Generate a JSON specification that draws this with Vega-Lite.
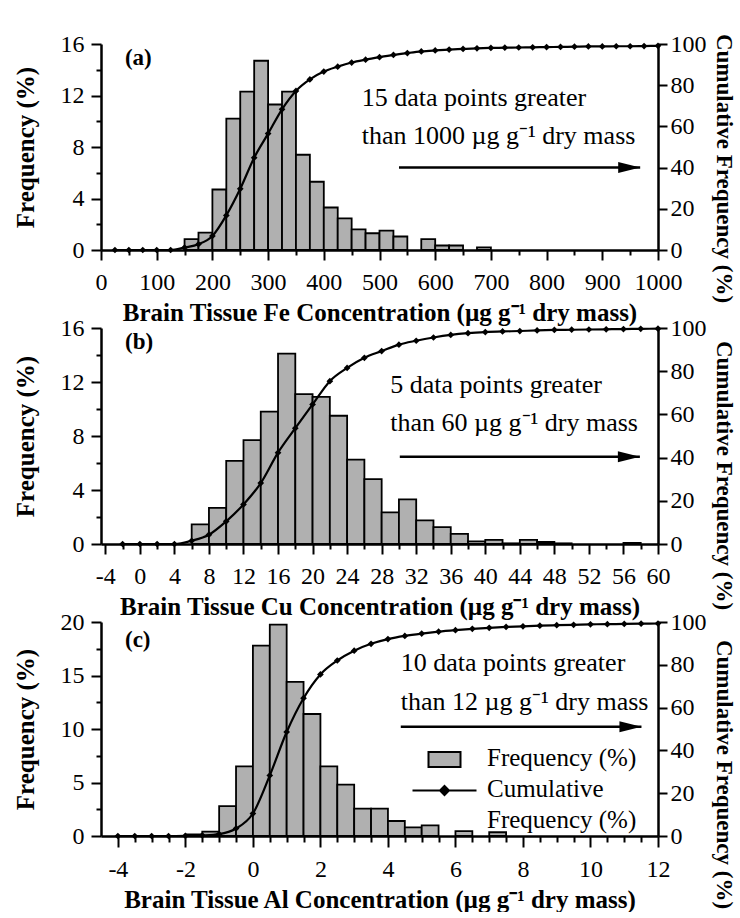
{
  "$schema": "https://vega.github.io/schema/vega-lite/v6.json",
  "background": "white",
  "padding": {"left": 13, "top": 32, "right": 0, "bottom": 0},
  "autosize": {"type": "pad"},
  "bounds": "flush",
  "spacing": 78,
  "config": {
    "font": "Liberation Serif",
    "view": {"stroke": null},
    "axis": {
      "grid": false,
      "domainColor": "black",
      "domainWidth": 2.5,
      "tickColor": "black",
      "tickWidth": 2,
      "labelColor": "black",
      "labelFont": "Liberation Serif",
      "labelFontSize": 24,
      "titleFont": "Liberation Serif",
      "titleFontSize": 25,
      "titleFontWeight": "bold",
      "titleColor": "black",
      "labelFlush": false,
      "labelOverlap": false,
      "labelBound": false
    }
  },
  "resolve": {"scale": {"fill": "independent"}, "legend": {"fill": "independent"}},
  "datasets": {
    "barsA": [
      {"x": 150, "x2": 175, "f": 0.85}, {"x": 175, "x2": 200, "f": 1.35}, {"x": 200, "x2": 225, "f": 4.7},
      {"x": 225, "x2": 250, "f": 10.2}, {"x": 250, "x2": 275, "f": 12.3}, {"x": 275, "x2": 300, "f": 14.7},
      {"x": 300, "x2": 325, "f": 11.3}, {"x": 325, "x2": 350, "f": 12.3}, {"x": 350, "x2": 375, "f": 7.4},
      {"x": 375, "x2": 400, "f": 5.3}, {"x": 400, "x2": 425, "f": 3.3}, {"x": 425, "x2": 450, "f": 2.45},
      {"x": 450, "x2": 475, "f": 1.6}, {"x": 475, "x2": 500, "f": 1.3}, {"x": 500, "x2": 525, "f": 1.5},
      {"x": 525, "x2": 550, "f": 1.05}, {"x": 575, "x2": 600, "f": 0.85}, {"x": 600, "x2": 625, "f": 0.35},
      {"x": 625, "x2": 650, "f": 0.35}, {"x": 675, "x2": 700, "f": 0.2}
    ],
    "cumA": [
      {"x": 25, "y": 0}, {"x": 50, "y": 0}, {"x": 75, "y": 0}, {"x": 100, "y": 0}, {"x": 125, "y": 0},
      {"x": 150, "y": 1.2}, {"x": 175, "y": 2.8}, {"x": 200, "y": 6.8}, {"x": 225, "y": 16.8}, {"x": 250, "y": 29.7},
      {"x": 275, "y": 44.8}, {"x": 300, "y": 56.5}, {"x": 325, "y": 68.3}, {"x": 350, "y": 77.2}, {"x": 375, "y": 82.8},
      {"x": 400, "y": 86.6}, {"x": 425, "y": 89.0}, {"x": 450, "y": 91.0}, {"x": 475, "y": 92.4}, {"x": 500, "y": 93.6},
      {"x": 525, "y": 94.7}, {"x": 550, "y": 95.6}, {"x": 575, "y": 96.4}, {"x": 600, "y": 96.9}, {"x": 625, "y": 97.3},
      {"x": 650, "y": 97.6}, {"x": 675, "y": 97.9}, {"x": 700, "y": 98.1}, {"x": 725, "y": 98.2}, {"x": 750, "y": 98.3},
      {"x": 775, "y": 98.4}, {"x": 800, "y": 98.5}, {"x": 825, "y": 98.6}, {"x": 850, "y": 98.7}, {"x": 875, "y": 98.8},
      {"x": 900, "y": 98.8}, {"x": 925, "y": 98.9}, {"x": 950, "y": 98.9}, {"x": 975, "y": 99.0}, {"x": 1000, "y": 99.1}
    ],
    "noteA": [
      {"x": 468, "y": 73.6, "t": "15 data points greater"},
      {"x": 468, "y": 55.3, "t": "than 1000 µg g⁻¹ dry mass"}
    ],
    "arrowA": [{"x": 535, "x2": 968, "y": 40}],
    "tagA": [{"x": 43, "y": 93.2, "t": "(a)"}],
    "barsB": [
      {"x": 6, "x2": 8, "f": 1.45}, {"x": 8, "x2": 10, "f": 2.67}, {"x": 10, "x2": 12, "f": 6.16},
      {"x": 12, "x2": 14, "f": 7.7}, {"x": 14, "x2": 16, "f": 9.8}, {"x": 16, "x2": 18, "f": 14.1},
      {"x": 18, "x2": 20, "f": 11.1}, {"x": 20, "x2": 22, "f": 10.9}, {"x": 22, "x2": 24, "f": 9.5},
      {"x": 24, "x2": 26, "f": 6.25}, {"x": 26, "x2": 28, "f": 4.8}, {"x": 28, "x2": 30, "f": 2.35},
      {"x": 30, "x2": 32, "f": 3.3}, {"x": 32, "x2": 34, "f": 1.75}, {"x": 34, "x2": 36, "f": 1.25},
      {"x": 36, "x2": 38, "f": 0.75}, {"x": 38, "x2": 40, "f": 0.2}, {"x": 40, "x2": 42, "f": 0.3},
      {"x": 42, "x2": 44, "f": 0.05}, {"x": 44, "x2": 46, "f": 0.3}, {"x": 46, "x2": 48, "f": 0.15},
      {"x": 48, "x2": 50, "f": 0.05}, {"x": 56, "x2": 58, "f": 0.08}
    ],
    "cumB": [
      {"x": -2, "y": 0}, {"x": 0, "y": 0}, {"x": 2, "y": 0}, {"x": 4, "y": 0}, {"x": 6, "y": 1.5},
      {"x": 8, "y": 4.3}, {"x": 10, "y": 10.5}, {"x": 12, "y": 18.3}, {"x": 14, "y": 28.2}, {"x": 16, "y": 42.3},
      {"x": 18, "y": 53.6}, {"x": 20, "y": 64.6}, {"x": 22, "y": 75.4}, {"x": 24, "y": 81.5}, {"x": 26, "y": 86.2},
      {"x": 28, "y": 89.3}, {"x": 30, "y": 92.3}, {"x": 32, "y": 94.1}, {"x": 34, "y": 95.6}, {"x": 36, "y": 96.8},
      {"x": 38, "y": 97.6}, {"x": 40, "y": 98.1}, {"x": 42, "y": 98.4}, {"x": 44, "y": 98.6}, {"x": 46, "y": 98.9},
      {"x": 48, "y": 99.1}, {"x": 50, "y": 99.2}, {"x": 52, "y": 99.3}, {"x": 54, "y": 99.4}, {"x": 56, "y": 99.5},
      {"x": 58, "y": 99.6}, {"x": 60, "y": 99.7}
    ],
    "noteB": [
      {"x": 29.0, "y": 73.6, "t": "5 data points greater"},
      {"x": 29.0, "y": 56.0, "t": "than 60 µg g⁻¹ dry mass"}
    ],
    "arrowB": [{"x": 30.1, "x2": 57.9, "y": 40.4}],
    "tagB": [{"x": -1.72, "y": 93.5, "t": "(b)"}],
    "barsC": [
      {"x": -2, "x2": -1.5, "f": 0.15}, {"x": -1.5, "x2": -1, "f": 0.4}, {"x": -1, "x2": -0.5, "f": 2.8},
      {"x": -0.5, "x2": 0, "f": 6.5}, {"x": 0, "x2": 0.5, "f": 17.8}, {"x": 0.5, "x2": 1, "f": 19.75},
      {"x": 1, "x2": 1.5, "f": 14.4}, {"x": 1.5, "x2": 2, "f": 11.4}, {"x": 2, "x2": 2.5, "f": 6.5},
      {"x": 2.5, "x2": 3, "f": 4.8}, {"x": 3, "x2": 3.5, "f": 2.55}, {"x": 3.5, "x2": 4, "f": 2.55},
      {"x": 4, "x2": 4.5, "f": 1.4}, {"x": 4.5, "x2": 5, "f": 0.8}, {"x": 5, "x2": 5.5, "f": 1.0},
      {"x": 6, "x2": 6.5, "f": 0.45}, {"x": 7, "x2": 7.5, "f": 0.35}
    ],
    "cumC": [
      {"x": -4, "y": 0}, {"x": -3.5, "y": 0}, {"x": -3, "y": 0}, {"x": -2.5, "y": 0}, {"x": -2, "y": 0.1},
      {"x": -1.5, "y": 0.3}, {"x": -1, "y": 0.9}, {"x": -0.5, "y": 3.5}, {"x": 0, "y": 10.5}, {"x": 0.5, "y": 28.3},
      {"x": 1, "y": 48.6}, {"x": 1.5, "y": 64.4}, {"x": 2, "y": 75.5}, {"x": 2.5, "y": 82.0}, {"x": 3, "y": 86.6},
      {"x": 3.5, "y": 89.8}, {"x": 4, "y": 92.0}, {"x": 4.5, "y": 93.5}, {"x": 5, "y": 94.6}, {"x": 5.5, "y": 95.5},
      {"x": 6, "y": 96.2}, {"x": 6.5, "y": 96.8}, {"x": 7, "y": 97.3}, {"x": 7.5, "y": 97.7}, {"x": 8, "y": 98.0},
      {"x": 8.5, "y": 98.3}, {"x": 9, "y": 98.5}, {"x": 9.5, "y": 98.7}, {"x": 10, "y": 98.9}, {"x": 10.5, "y": 99.0},
      {"x": 11, "y": 99.1}, {"x": 11.5, "y": 99.2}, {"x": 12, "y": 99.3}
    ],
    "noteC": [
      {"x": 4.38, "y": 80.8, "t": "10 data points greater"},
      {"x": 4.38, "y": 62.8, "t": "than 12 µg g⁻¹ dry mass"}
    ],
    "arrowC": [{"x": 4.38, "x2": 11.51, "y": 51}],
    "tagC": [{"x": -3.79, "y": 91.6, "t": "(c)"}]
  },
  "vconcat": [
    {
      "width": 557,
      "height": 206,
      "resolve": {"scale": {"y": "independent"}},
      "encoding": {
        "x": {
          "field": "x", "type": "quantitative",
          "scale": {"domain": [0, 1000], "nice": false, "zero": false},
          "axis": {
            "title": "Brain Tissue Fe Concentration (µg g⁻¹ dry mass)",
            "values": [0, 50, 100, 150, 200, 250, 300, 350, 400, 450, 500, 550, 600, 650, 700, 750, 800, 850, 900, 950, 1000],
            "labelExpr": "datum.value % 100 == 0 ? '' + datum.value : ''",
            "tickSize": {"condition": {"test": "datum.value % 100 == 0", "value": 10}, "value": 5},
            "labelPadding": 10,
            "titlePadding": 6
          }
        }
      },
      "layer": [
        {
          "data": {"name": "barsA"},
          "mark": {"type": "rect", "fill": "#b0b0b0", "stroke": "black", "strokeWidth": 1.8},
          "encoding": {
            "x2": {"field": "x2"},
            "y": {
              "field": "f", "type": "quantitative",
              "scale": {"domain": [0, 16], "nice": false},
              "axis": {
                "orient": "left", "title": "Frequency (%)",
                "values": [0, 2, 4, 6, 8, 10, 12, 14, 16],
                "labelExpr": "datum.value % 4 == 0 ? '' + datum.value : ''",
                "tickSize": {"condition": {"test": "datum.value % 4 == 0", "value": 10}, "value": 5},
                "labelPadding": 7,
                "titlePadding": 22
              }
            },
            "y2": {"datum": 0}
          }
        },
        {
          "encoding": {
            "y": {
              "field": "y", "type": "quantitative",
              "scale": {"domain": [0, 100], "nice": false},
              "axis": {
                "orient": "right", "title": "Cumulative Frequency (%)",
                "values": [0, 20, 40, 60, 80, 100],
                "tickSize": 9, "labelPadding": 3, "titlePadding": 5, "titleFontSize": 23, "titleY": 124
              }
            }
          },
          "layer": [
            {"data": {"name": "cumA"}, "mark": {"type": "line", "interpolate": "monotone", "color": "black", "strokeWidth": 2.2}},
            {"data": {"name": "cumA"}, "mark": {"type": "point", "shape": "diamond", "filled": true, "color": "black", "size": 45, "opacity": 1}},
            {"data": {"name": "noteA"}, "mark": {"type": "text", "align": "left", "baseline": "middle", "font": "Liberation Serif", "fontSize": 26, "color": "black"}, "encoding": {"text": {"field": "t"}}},
            {"data": {"name": "arrowA"}, "mark": {"type": "rule", "color": "black", "strokeWidth": 2.5}, "encoding": {"x2": {"field": "x2"}}},
            {"data": {"name": "arrowA"}, "mark": {"type": "point", "shape": "M-2,-0.5L0,0L-2,0.5Z", "filled": true, "color": "black", "size": 484, "opacity": 1}, "encoding": {"x": {"field": "x2", "type": "quantitative"}}},
            {"data": {"name": "tagA"}, "mark": {"type": "text", "align": "left", "baseline": "middle", "font": "Liberation Serif", "fontSize": 23, "fontWeight": "bold", "color": "black"}, "encoding": {"text": {"field": "t"}}}
          ]
        }
      ]
    },
    {
      "width": 557,
      "height": 216,
      "resolve": {"scale": {"y": "independent"}},
      "encoding": {
        "x": {
          "field": "x", "type": "quantitative",
          "scale": {"domain": [-4.5, 60], "nice": false, "zero": false},
          "axis": {
            "title": "Brain Tissue Cu Concentration (µg g⁻¹ dry mass)",
            "values": [-4, -2, 0, 2, 4, 6, 8, 10, 12, 14, 16, 18, 20, 22, 24, 26, 28, 30, 32, 34, 36, 38, 40, 42, 44, 46, 48, 50, 52, 54, 56, 58, 60],
            "labelExpr": "datum.value % 4 == 0 ? '' + datum.value : ''",
            "tickSize": {"condition": {"test": "datum.value % 4 == 0", "value": 10}, "value": 5},
            "labelPadding": 10,
            "titlePadding": 6
          }
        }
      },
      "layer": [
        {
          "data": {"name": "barsB"},
          "mark": {"type": "rect", "fill": "#b0b0b0", "stroke": "black", "strokeWidth": 1.8},
          "encoding": {
            "x2": {"field": "x2"},
            "y": {
              "field": "f", "type": "quantitative",
              "scale": {"domain": [0, 16], "nice": false},
              "axis": {
                "orient": "left", "title": "Frequency (%)",
                "values": [0, 2, 4, 6, 8, 10, 12, 14, 16],
                "labelExpr": "datum.value % 4 == 0 ? '' + datum.value : ''",
                "tickSize": {"condition": {"test": "datum.value % 4 == 0", "value": 10}, "value": 5},
                "labelPadding": 7,
                "titlePadding": 22
              }
            },
            "y2": {"datum": 0}
          }
        },
        {
          "encoding": {
            "y": {
              "field": "y", "type": "quantitative",
              "scale": {"domain": [0, 100], "nice": false},
              "axis": {
                "orient": "right", "title": "Cumulative Frequency (%)",
                "values": [0, 20, 40, 60, 80, 100],
                "tickSize": 9, "labelPadding": 3, "titlePadding": 5, "titleFontSize": 23, "titleY": 147
              }
            }
          },
          "layer": [
            {"data": {"name": "cumB"}, "mark": {"type": "line", "interpolate": "monotone", "color": "black", "strokeWidth": 2.2}},
            {"data": {"name": "cumB"}, "mark": {"type": "point", "shape": "diamond", "filled": true, "color": "black", "size": 45, "opacity": 1}},
            {"data": {"name": "noteB"}, "mark": {"type": "text", "align": "left", "baseline": "middle", "font": "Liberation Serif", "fontSize": 26, "color": "black"}, "encoding": {"text": {"field": "t"}}},
            {"data": {"name": "arrowB"}, "mark": {"type": "rule", "color": "black", "strokeWidth": 2.5}, "encoding": {"x2": {"field": "x2"}}},
            {"data": {"name": "arrowB"}, "mark": {"type": "point", "shape": "M-2,-0.5L0,0L-2,0.5Z", "filled": true, "color": "black", "size": 484, "opacity": 1}, "encoding": {"x": {"field": "x2", "type": "quantitative"}}},
            {"data": {"name": "tagB"}, "mark": {"type": "text", "align": "left", "baseline": "middle", "font": "Liberation Serif", "fontSize": 23, "fontWeight": "bold", "color": "black"}, "encoding": {"text": {"field": "t"}}}
          ]
        }
      ]
    },
    {
      "width": 557,
      "height": 214,
      "resolve": {"scale": {"y": "independent"}},
      "encoding": {
        "x": {
          "field": "x", "type": "quantitative",
          "scale": {"domain": [-4.5, 12], "nice": false, "zero": false},
          "axis": {
            "title": "Brain Tissue Al Concentration (µg g⁻¹ dry mass)",
            "values": [-4, -3.5, -3, -2.5, -2, -1.5, -1, -0.5, 0, 0.5, 1, 1.5, 2, 2.5, 3, 3.5, 4, 4.5, 5, 5.5, 6, 6.5, 7, 7.5, 8, 8.5, 9, 9.5, 10, 10.5, 11, 11.5, 12],
            "labelExpr": "datum.value % 2 == 0 ? '' + datum.value : ''",
            "tickSize": {"condition": {"test": "datum.value % 2 == 0", "value": 11}, "value": 6},
            "labelPadding": 10,
            "titlePadding": 6
          }
        }
      },
      "layer": [
        {
          "data": {"name": "barsC"},
          "mark": {"type": "rect", "stroke": "black", "strokeWidth": 1.8},
          "encoding": {
            "x2": {"field": "x2"},
            "y": {
              "field": "f", "type": "quantitative",
              "scale": {"domain": [0, 20], "nice": false},
              "axis": {
                "orient": "left", "title": "Frequency (%)",
                "values": [0, 2.5, 5, 7.5, 10, 12.5, 15, 17.5, 20],
                "labelExpr": "datum.value % 5 == 0 ? '' + datum.value : ''",
                "tickSize": {"condition": {"test": "datum.value % 5 == 0", "value": 10}, "value": 5},
                "labelPadding": 7,
                "titlePadding": 22
              }
            },
            "y2": {"datum": 0},
            "fill": {
              "datum": "Frequency (%)",
              "scale": {"domain": ["Frequency (%)", "Cumulative Frequency (%)"], "range": ["#b0b0b0", "black"]},
              "legend": {
                "title": null,
                "orient": "none",
                "legendX": 331,
                "legendY": 125,
                "padding": 0,
                "labelFont": "Liberation Serif",
                "labelFontSize": 25,
                "labelColor": "black",
                "labelLimit": 0,
                "labelOffset": 30,
                "labelBaseline": "top",
                "rowPadding": 5,
                "symbolSize": 400,
                "symbolStrokeColor": "black",
                "symbolStrokeWidth": 2,
                "labelExpr": "datum.value == 'Cumulative Frequency (%)' ? ['Cumulative', 'Frequency (%)'] : datum.value",
                "encode": {
                  "symbols": {
                    "update": {
                      "shape": {"signal": "datum.value == 'Frequency (%)' ? 'M-1.6,-0.75H1.6V0.75H-1.6Z' : 'M-3.2,0H3.2M0,-0.45L0.45,0L0,0.45L-0.45,0Z'"}
                    }
                  },
                  "labels": {
                    "update": {
                      "dy": {"value": -14},
                      "lineHeight": {"value": 31}
                    }
                  }
                }
              }
            }
          }
        },
        {
          "encoding": {
            "y": {
              "field": "y", "type": "quantitative",
              "scale": {"domain": [0, 100], "nice": false},
              "axis": {
                "orient": "right", "title": "Cumulative Frequency (%)",
                "values": [0, 20, 40, 60, 80, 100],
                "tickSize": 9, "labelPadding": 3, "titlePadding": 5, "titleFontSize": 23, "titleY": 152
              }
            }
          },
          "layer": [
            {"data": {"name": "cumC"}, "mark": {"type": "line", "interpolate": "monotone", "color": "black", "strokeWidth": 2.2}},
            {"data": {"name": "cumC"}, "mark": {"type": "point", "shape": "diamond", "filled": true, "size": 45, "opacity": 1}, "encoding": {"fill": {"datum": "Cumulative Frequency (%)"}}},
            {"data": {"name": "noteC"}, "mark": {"type": "text", "align": "left", "baseline": "middle", "font": "Liberation Serif", "fontSize": 26, "color": "black"}, "encoding": {"text": {"field": "t"}}},
            {"data": {"name": "arrowC"}, "mark": {"type": "rule", "color": "black", "strokeWidth": 2.5}, "encoding": {"x2": {"field": "x2"}}},
            {"data": {"name": "arrowC"}, "mark": {"type": "point", "shape": "M-2,-0.5L0,0L-2,0.5Z", "filled": true, "color": "black", "size": 484, "opacity": 1}, "encoding": {"x": {"field": "x2", "type": "quantitative"}}},
            {"data": {"name": "tagC"}, "mark": {"type": "text", "align": "left", "baseline": "middle", "font": "Liberation Serif", "fontSize": 23, "fontWeight": "bold", "color": "black"}, "encoding": {"text": {"field": "t"}}}
          ]
        }
      ]
    }
  ]
}
